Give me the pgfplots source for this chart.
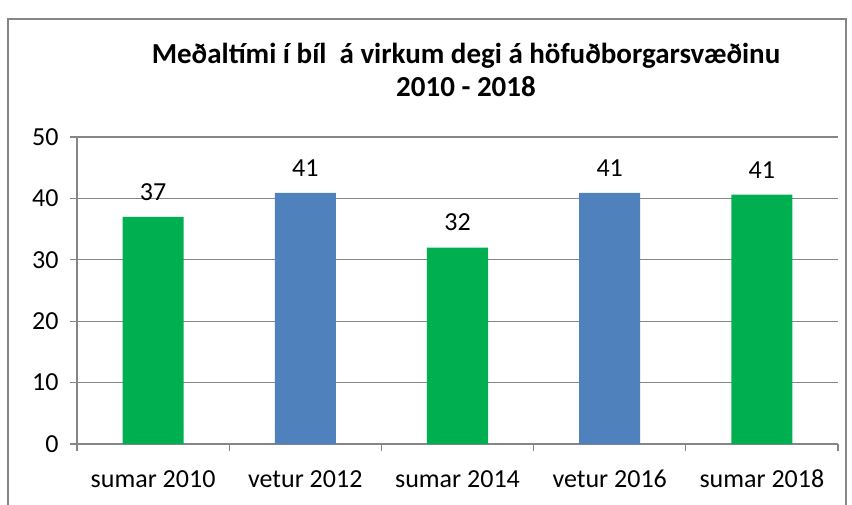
\documentclass[border=0pt]{standalone}
\usepackage{pgfplots}
\pgfplotsset{compat=1.18}
\usepackage{fontspec}
\setmainfont{Carlito}
\definecolor{bargreen}{HTML}{00B050}
\definecolor{barblue}{HTML}{4F81BD}
\definecolor{gridgray}{HTML}{868686}
\begin{document}
\begin{tikzpicture}[x=1pt,y=1pt]
\useasboundingbox (0,0) rectangle (852,504);
\draw[gridgray,line width=1.3pt] (8,-10) -- (8,485) -- (846,485) -- (846,-10);
\node[font=\fontsize{29}{33}\selectfont\bfseries,align=center] at (466,434) {Meðaltími í bíl\ \ á virkum degi á höfuðborgarsvæðinu\\2010 - 2018};
\begin{axis}[
  at={(77pt,60pt)}, anchor=south west,
  scale only axis, width=761pt, height=307pt,
  xmin=-0.5, xmax=4.5, ymin=0, ymax=50,
  ytick={0,10,20,30,40,50},
  xtick={-0.5,0.5,1.5,2.5,3.5,4.5},
  xticklabels={},
  extra x ticks={0,1,2,3,4},
  extra x tick labels={sumar 2010, vetur 2012, sumar 2014, vetur 2016, sumar 2018},
  extra x tick style={major tick length=0pt, grid=none},
  xticklabel style={yshift=-22pt, text height=18pt, text depth=5pt},
  major tick length=7pt,
  tick align=outside,
  tick style={gridgray,line width=1.2pt},
  axis x line*=bottom, axis y line*=left,
  axis line style={gridgray,line width=1.2pt},
  ymajorgrids,
  grid style={gridgray,line width=1.2pt},
  ticklabel style={font=\fontsize{26}{30}\selectfont},
  yticklabel style={xshift=-8pt},
  /pgf/number format/assume math mode=true,
  ybar, bar width=61pt,
  nodes near coords,
  nodes near coords style={font=\fontsize{26}{30}\selectfont, yshift=13pt, /pgf/number format/fixed, /pgf/number format/precision=0},
  clip=false,
]
\addplot[fill=bargreen, draw=none, bar shift=0pt] coordinates {(0,37.0) (2,32.0) (4,40.6)};
\addplot[fill=barblue, draw=none, bar shift=0pt] coordinates {(1,40.9) (3,40.9)};
\end{axis}
\end{tikzpicture}
\end{document}
